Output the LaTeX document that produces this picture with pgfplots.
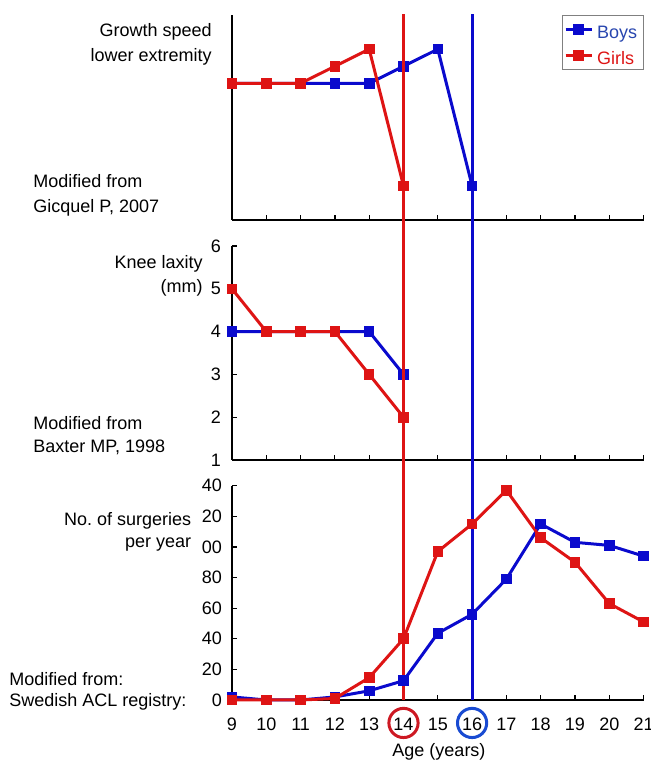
\documentclass[border=0pt]{standalone}
\usepackage{fontspec}
\setmainfont{Liberation Sans}
\usepackage{pgfplots}
\pgfplotsset{compat=1.18}

\definecolor{boyblue}{RGB}{10,10,205}
\definecolor{girlred}{RGB}{222,20,20}
\definecolor{legblue}{RGB}{40,70,175}
\definecolor{circblue}{RGB}{25,75,210}
\definecolor{circred}{RGB}{205,25,35}

\newcommand{\lab}{\fontsize{9}{11}\selectfont}

\pgfplotsset{
  panel/.style={
    scale only axis,
    width=205.8pt,
    anchor=south west,
    xmin=9, xmax=21,
    xtick={9,...,21},
    axis lines=left,
    axis line style={-, black, line width=1pt},
    tick align=inside,
    major tick length=2.5pt,
    tick style={black, line width=0.6pt},
    tick label style={font=\lab},
    /pgf/number format/assume math mode=true,
    clip=false,
  },
  boys/.style={boyblue, line width=1.5pt, mark=square*, mark size=1.9pt},
  girls/.style={girlred, line width=1.5pt, mark=square*, mark size=1.9pt},
}

\begin{document}
\begin{tikzpicture}
\useasboundingbox (0,0) rectangle (325.5pt,381pt);

% growth speed
\begin{axis}[panel,
    at={(116pt,271pt)}, height=102.5pt,
    ymin=0, ymax=6, ytick=\empty, xticklabels={},
    legend style={at={(1,1)}, anchor=north east, draw=gray, line width=0.5pt,
      font=\lab, inner sep=1pt, row sep=1pt,
      nodes={text height=9pt, text depth=0pt, inner ysep=1.5pt}},
    legend cell align=left,
    legend image code/.code={\draw[#1, mark repeat=2, mark phase=2]
      plot coordinates {(0pt,0pt) (6.5pt,0pt) (13pt,0pt)};},
  ]
  \addplot[boys] coordinates {(9,4) (10,4) (11,4) (12,4) (13,4) (14,4.5) (15,5) (16,1)};
  \addplot[girls] coordinates {(9,4) (10,4) (11,4) (12,4.5) (13,5) (14,1)};
  \legend{\textcolor{legblue}{Boys}, \textcolor{girlred}{Girls}}
\end{axis}

% knee laxity
\begin{axis}[panel,
    at={(116pt,151pt)}, height=107pt,
    ymin=1, ymax=6, ytick={1,...,6}, xticklabels={},
    yticklabel style={xshift=-2pt},
  ]
  \addplot[boys] coordinates {(9,4) (10,4) (11,4) (12,4) (13,4) (14,3)};
  \addplot[girls] coordinates {(9,5) (10,4) (11,4) (12,4) (13,3) (14,2)};
\end{axis}

% surgeries
\begin{axis}[panel,
    at={(116pt,31pt)}, height=107.15pt,
    ymin=0, ymax=140, ytick={0,20,...,140},
    yticklabels={0,20,40,60,80,00,20,40},
    yticklabel style={xshift=-1.5pt},
    xticklabel style={yshift=-5.5pt},
  ]
  \addplot[boys] coordinates {(9,2) (10,0) (11,0) (12,2) (13,6) (14,12.6) (15,43.6)
    (16,56) (17,79) (18,115) (19,103) (20,101) (21,94)};
  \addplot[girls] coordinates {(9,0) (10,0) (11,0) (12,1) (13,14.6) (14,40) (15,97)
    (16,115) (17,137) (18,106) (19,90) (20,63) (21,51)};
  % cut-off ages
  \addplot[girlred, line width=1.6pt] coordinates {(14,0) (14,448)};
  \addplot[boyblue, line width=1.6pt] coordinates {(16,0) (16,448)};
  \addplot[only marks, mark=o, mark size=7.3pt, circred, line width=1.5pt] coordinates {(14,-15)};
  \addplot[only marks, mark=o, mark size=7.3pt, circblue, line width=1.5pt] coordinates {(16,-15)};
\end{axis}

\begin{scope}[every node/.style={font=\lab, inner sep=0pt}]
  \node[anchor=base east] at (106pt,362.5pt) {Growth speed};
  \node[anchor=base east] at (106pt,350.25pt) {lower extremity};
  \node[anchor=base west] at (16.5pt,287pt) {Modified from};
  \node[anchor=base west] at (16.5pt,274.75pt) {Gicquel P, 2007};
  \node[anchor=base east] at (101.5pt,246.5pt) {Knee laxity};
  \node[anchor=base east] at (101.5pt,234.5pt) {(mm)};
  \node[anchor=base west] at (16.5pt,166pt) {Modified from};
  \node[anchor=base west] at (16.5pt,154.6pt) {Baxter MP, 1998};
  \node[anchor=base east] at (95.8pt,118pt) {No.\ of surgeries};
  \node[anchor=base east] at (95.8pt,107pt) {per year};
  \node[anchor=base west] at (4.5pt,38pt) {Modified from:};
  \node[anchor=base west] at (4.5pt,27.5pt) {Swedish ACL registry:};
  \node[anchor=base] at (219.5pt,2.5pt) {Age (years)};
\end{scope}
\end{tikzpicture}
\end{document}
